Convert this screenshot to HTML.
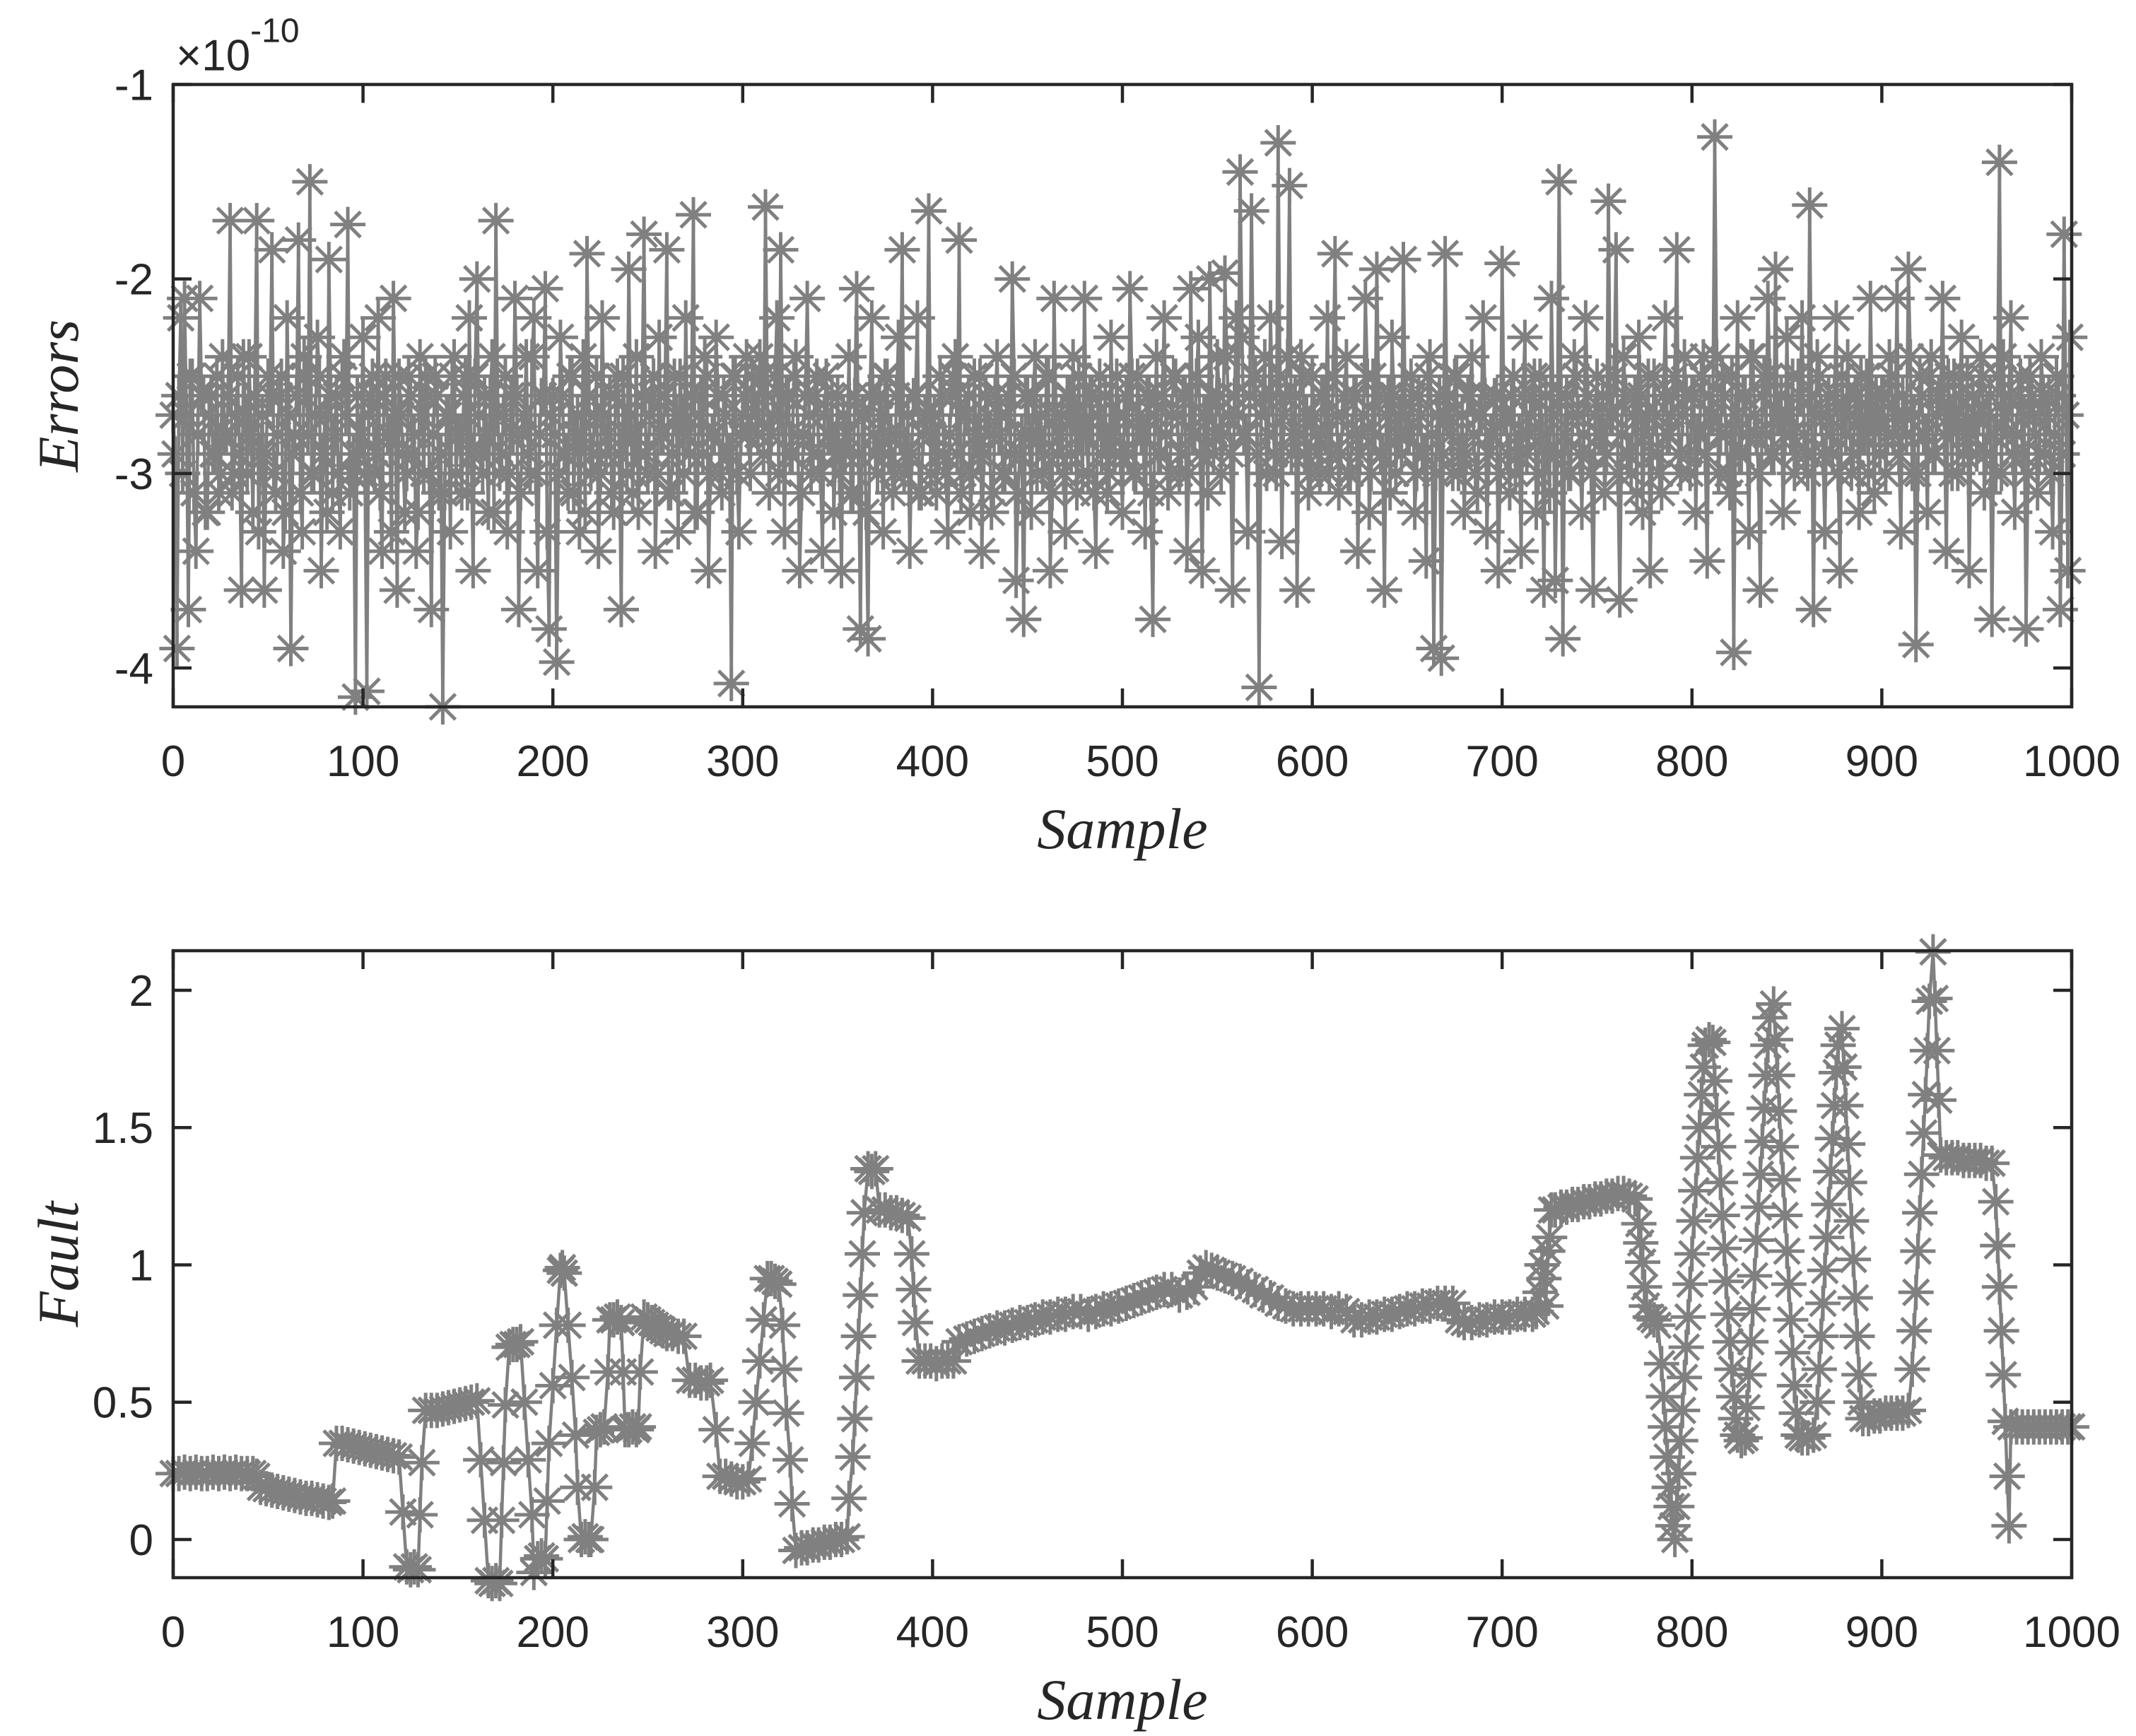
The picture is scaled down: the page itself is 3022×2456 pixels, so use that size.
<!DOCTYPE html>
<html><head><meta charset="utf-8"><style>
html,body{margin:0;padding:0;background:#fff;}
svg{display:block;}
.tick{font-family:"Liberation Sans",sans-serif;font-size:62px;fill:#262626;}
.lab{font-family:"Liberation Serif",serif;font-style:italic;font-size:82px;fill:#262626;}
</style></head><body>
<svg id="fig" width="3022" height="2456" viewBox="0 0 3022 2456" xmlns="http://www.w3.org/2000/svg">
<rect width="3022" height="2456" fill="#fff"/>
<g id="top"></g>
<g id="bot"></g>
</svg>
<script>
const errValuesEven = [
-2.7,-3.9,-2.2,-2.1,-3.7,-2.5,-3.4,-2.1,-2.6,-3.2,-2.6,-2.9,-3.1,-2.4,-2.8,-1.7,-3.0,-2.5,-3.6,-2.7,-2.4,-3.2,-1.7,-2.9,-3.6,
-2.5,-1.85,-3.1,-2.6,-3.4,-2.2,-3.9,-2.8,-1.8,-3.3,-2.5,-1.5,-3.0,-2.3,-3.5,-2.7,-1.9,-3.1,-2.6,-3.3,-2.4,-1.72,-3.0,-4.15,-2.9,
-2.3,-4.12,-2.6,-3.0,-2.2,-3.4,-2.5,-2.8,-2.1,-3.6,-2.7,-3.2,-2.5,-2.9,-3.4,-2.4,-3.0,-2.6,-3.7,-2.5,-3.1,-4.2,-2.7,-3.3,-2.4,
-2.8,-3.1,-2.5,-2.2,-3.5,-2.0,-2.9,-2.6,-3.2,-2.4,-1.7,-3.0,-2.7,-3.3,-2.6,-2.1,-3.7,-2.8,-2.4,-3.0,-2.2,-3.5,-2.6,-2.05,-3.8,
-2.6,-3.97,-2.3,-2.9,-3.1,-2.5,-2.8,-3.3,-2.4,-1.87,-3.0,-2.7,-3.4,-2.2,-2.9,-2.6,-3.2,-2.5,-3.7,-2.8,-1.95,-3.1,-2.4,-2.9,-1.77,
-3.0,-2.6,-3.4,-2.3,-2.8,-1.85,-3.1,-2.5,-3.3,-2.7,-2.2,-2.9,-1.67,-3.2,-2.6,-2.4,-3.5,-2.8,-2.3,-3.0,-2.6,-2.9,-4.08,-2.5,-3.3,
-2.7,-2.4,-3.0,-2.6,-2.8,-2.5,-1.63,-3.1,-2.7,-2.2,-1.85,-3.3,-2.6,-2.9,-2.4,-3.5,-2.8,-2.1,-3.0,-2.6,-2.9,-3.4,-2.5,-2.8,-3.2,
-2.6,-3.5,-2.9,-2.4,-3.1,-2.05,-3.8,-2.7,-3.85,-2.2,-2.9,-2.6,-3.3,-2.5,-2.8,-3.0,-2.3,-1.85,-2.9,-3.4,-2.6,-2.2,-3.1,-2.7,-1.65,
-2.8,-3.1,-2.5,-2.9,-3.3,-2.6,-2.4,-1.8,-3.0,-2.7,-3.2,-2.5,-2.9,-3.4,-2.6,-2.8,-3.1,-2.4,-2.7,-3.0,-2.6,-2.0,-3.55,-2.9,-3.75,
-2.6,-3.2,-2.4,-2.8,-3.0,-2.5,-3.5,-2.1,-2.9,-2.7,-3.3,-2.6,-2.4,-3.1,-2.8,-2.1,-3.0,-2.6,-3.4,-2.5,-2.8,-3.1,-2.3,-2.9,-2.7,
-3.2,-2.6,-2.05,-3.0,-2.5,-2.8,-3.3,-2.6,-3.75,-2.4,-2.9,-2.2,-3.1,-2.7,-2.5,-3.0,-2.6,-3.4,-2.05,-2.8,-2.3,-3.5,-2.7,-2.0,-2.9,
-2.4,-3.0,-1.97,-2.7,-3.6,-2.2,-1.45,-2.8,-3.3,-1.65,-2.5,-4.1,-2.6,-3.0,-2.2,-2.9,-1.3,-3.35,-2.6,-1.52,-2.8,-3.6,-2.4,-2.9,-3.1,
-2.5,-2.8,-3.0,-2.6,-2.2,-2.9,-1.87,-3.1,-2.7,-2.4,-3.0,-2.6,-3.4,-2.8,-2.1,-3.2,-2.5,-1.95,-2.9,-3.6,-2.6,-2.3,-3.0,-2.7,-1.9,
-2.8,-2.5,-3.2,-2.6,-2.9,-3.45,-2.4,-3.9,-2.7,-3.95,-1.87,-2.6,-3.0,-2.5,-2.9,-3.2,-2.6,-2.4,-3.0,-2.7,-2.2,-3.3,-2.8,-2.6,-3.5,
-1.92,-2.7,-3.1,-2.5,-2.9,-3.4,-2.3,-2.8,-2.6,-3.2,-2.5,-3.6,-2.9,-2.1,-3.55,-1.5,-3.85,-2.6,-3.0,-2.4,-2.7,-3.2,-2.2,-2.9,-3.6,
-2.5,-2.8,-3.1,-1.6,-2.7,-1.85,-3.65,-2.4,-2.9,-3.0,-2.6,-2.3,-3.2,-2.7,-3.5,-2.5,-2.9,-3.1,-2.2,-2.8,-2.6,-1.85,-3.0,-2.4,-2.9,
-2.6,-3.2,-2.8,-2.4,-3.45,-2.7,-1.27,-3.0,-2.5,-2.8,-3.1,-3.92,-2.2,-2.9,-2.6,-3.3,-2.4,-2.8,-3.6,-2.5,-2.1,-2.9,-1.95,-2.7,-3.2,
-2.3,-2.8,-3.0,-2.5,-2.2,-2.9,-1.62,-3.7,-2.4,-2.7,-3.3,-2.6,-2.9,-2.2,-3.5,-2.7,-2.4,-3.0,-2.6,-3.2,-2.8,-2.5,-2.1,-3.1,-2.7,
-2.6,-3.0,-2.4,-2.8,-2.1,-3.3,-2.7,-1.95,-3.0,-3.88,-2.5,-2.8,-3.2,-2.4,-2.9,-2.6,-2.1,-3.4,-2.7,-2.5,-3.0,-2.3,-2.8,-3.5,-2.6,
-2.9,-2.4,-3.1,-2.7,-3.75,-3.0,-1.4,-2.4,-2.8,-2.2,-3.2,-2.6,-2.9,-3.8,-2.5,-2.7,-3.1,-2.4,-2.9,-2.6,-3.3,-2.5,-3.7,-1.77,-3.5];
const errValuesOdd = [
-2.9,-2.6,-3.0,-2.7,-2.5,-3.1,-2.8,-2.6,-3.2,-2.7,-2.9,-2.5,-3.0,-2.8,-2.6,-3.1,-2.7,-2.9,-2.4,-3.0,-2.8,-2.6,-3.3,-2.7,-2.9,
-2.6,-3.0,-2.8,-2.5,-3.2,-2.7,-2.9,-2.6,-3.1,-2.4,-2.8,-3.0,-2.7,-2.5,-2.9,-3.2,-2.6,-2.8,-3.0,-2.5,-2.7,-3.1,-2.9,-2.6,-2.8,
-3.0,-2.7,-2.5,-2.9,-3.1,-2.6,-2.8,-3.3,-2.7,-2.5,-2.9,-3.0,-2.6,-2.8,-3.2,-2.7,-2.5,-3.0,-2.8,-2.6,-2.9,-3.1,-2.7,-2.5,-3.0,
-2.8,-2.6,-3.1,-2.9,-2.5,-2.7,-3.0,-2.8,-2.6,-3.2,-2.7,-2.9,-2.5,-3.0,-2.8,-2.6,-3.1,-2.7,-2.9,-2.4,-3.0,-2.8,-2.6,-3.3,-2.7,
-2.8,-3.0,-2.6,-2.9,-2.5,-3.1,-2.7,-2.8,-3.2,-2.6,-2.9,-2.5,-3.0,-2.7,-2.8,-3.1,-2.6,-2.9,-2.5,-3.0,-2.7,-2.8,-3.2,-2.6,-2.9,
-2.7,-2.5,-3.0,-2.8,-2.6,-3.1,-2.9,-2.7,-2.5,-3.0,-2.8,-2.6,-3.2,-2.7,-2.9,-2.5,-3.0,-2.8,-2.6,-3.1,-2.7,-2.9,-2.5,-3.0,-2.8,
-2.6,-2.8,-2.5,-2.7,-2.4,-2.9,-2.6,-2.8,-2.5,-3.0,-2.7,-2.6,-2.9,-2.5,-2.8,-3.1,-2.6,-2.7,-2.9,-2.5,-3.0,-2.7,-2.8,-2.6,-2.9,
-3.0,-2.7,-2.8,-3.1,-2.6,-2.9,-2.7,-3.2,-2.6,-2.8,-3.0,-2.7,-2.5,-2.9,-3.1,-2.6,-2.8,-3.0,-2.7,-2.9,-2.6,-3.1,-2.8,-2.7,-3.0,
-2.7,-2.9,-2.6,-3.0,-2.8,-2.5,-2.9,-3.1,-2.7,-2.6,-3.0,-2.8,-2.5,-2.9,-2.7,-3.2,-2.6,-2.8,-3.0,-2.7,-2.9,-2.5,-3.1,-2.8,-2.6,
-2.8,-2.6,-3.0,-2.7,-2.9,-2.5,-3.1,-2.7,-2.8,-3.0,-2.6,-2.9,-2.7,-2.5,-3.0,-2.8,-2.6,-3.1,-2.7,-2.9,-2.6,-3.0,-2.8,-2.5,-2.9,
-2.7,-2.9,-2.5,-3.0,-2.7,-2.8,-2.6,-3.1,-2.7,-2.9,-2.6,-2.8,-3.0,-2.5,-2.7,-2.9,-2.6,-3.0,-2.8,-2.5,-2.9,-2.7,-3.1,-2.6,-2.8,
-2.6,-2.8,-2.4,-2.9,-2.6,-2.7,-2.3,-2.8,-2.6,-2.5,-2.9,-2.7,-2.4,-2.8,-2.6,-3.0,-2.5,-2.7,-2.4,-2.9,-2.6,-2.8,-2.5,-2.7,-3.0,
-2.7,-2.9,-2.6,-2.8,-3.0,-2.5,-2.7,-2.9,-2.6,-3.0,-2.8,-2.6,-2.9,-2.7,-2.5,-3.0,-2.8,-2.6,-2.9,-2.7,-3.1,-2.6,-2.8,-2.9,-2.7,
-2.8,-2.6,-3.0,-2.7,-2.9,-2.5,-2.8,-3.0,-2.6,-2.9,-2.7,-2.8,-2.5,-3.0,-2.7,-2.9,-2.6,-2.8,-3.1,-2.7,-2.6,-2.9,-2.8,-2.6,-3.0,
-2.7,-2.9,-2.6,-3.0,-2.8,-2.6,-2.9,-2.7,-2.5,-3.0,-2.8,-2.6,-3.1,-2.7,-2.9,-2.6,-2.8,-3.0,-2.7,-2.5,-2.9,-2.8,-2.6,-3.0,-2.7,
-2.8,-2.6,-2.9,-2.7,-2.5,-3.0,-2.8,-2.6,-2.9,-2.7,-3.1,-2.6,-2.8,-2.5,-2.9,-2.7,-3.0,-2.6,-2.8,-2.7,-2.5,-2.9,-2.7,-2.6,-3.0,
-2.6,-2.8,-2.5,-2.9,-2.6,-2.7,-2.4,-2.8,-2.6,-3.0,-2.5,-2.7,-2.9,-2.6,-2.8,-2.4,-2.7,-3.0,-2.6,-2.8,-2.5,-2.9,-2.7,-2.6,-2.8,
-2.7,-2.5,-2.9,-2.6,-2.8,-3.0,-2.6,-2.7,-2.5,-2.9,-2.7,-2.8,-2.6,-3.0,-2.5,-2.8,-2.7,-2.9,-2.6,-2.5,-2.8,-3.0,-2.7,-2.6,-2.9,
-2.6,-2.8,-2.5,-2.7,-2.9,-2.6,-2.8,-2.4,-2.7,-3.0,-2.6,-2.8,-2.5,-2.9,-2.7,-2.6,-2.8,-2.5,-3.0,-2.7,-2.6,-2.9,-2.5,-2.8,-2.7,
-2.7,-2.5,-2.9,-2.6,-2.8,-2.5,-3.0,-2.7,-2.6,-2.9,-2.8,-2.5,-2.7,-3.0,-2.6,-2.8,-2.9,-2.6,-2.7,-3.0,-2.8,-2.6,-2.9,-2.7,-2.3];
const errSamples = [];
const errValues = [];
errValuesEven.forEach((v,i)=>{errSamples.push(2*i);errValues.push(v);errSamples.push(2*i+1);errValues.push(errValuesOdd[i]);});

const faultSamples = [0,3,6,9,12,15,18,21,24,27,30,33,36,39,42,44,46,49,52,55,58,61,64,67,70,73,76,79,82,84,
86,89,92,95,98,101,104,107,110,113,116,119,121,123,125,127,129,130,131,133,136,139,142,145,148,151,154,157,160,
162,164,166,168,170,172,173,174,175,177,179,181,183,185,187,189,190,192,194,196,197,198,200,202,204,205,206,
208,210,212,213,215,217,219,220,222,223,225,227,229,230,232,234,236,237,238,240,242,244,245,246,248,250,252,254,256,258,260,263,266,269,
272,275,278,281,283,286,288,291,294,297,300,303,305,307,309,311,313,315,317,319,321,322,323,325,326,
328,331,334,337,340,343,346,349,352,355,356,358,359,360,361,362,363,364,366,368,370,372,375,378,381,384,387,389,390,391,
393,396,399,402,405,408,411,414,418,422,426,430,434,438,442,446,450,454,458,462,466,470,474,478,482,486,490,494,498,502,506,510,514,518,522,526,530,534,538,541,544,547,550,554,558,562,566,570,574,578,582,586,590,594,598,602,606,610,614,618,622,626,630,634,638,642,646,650,654,658,662,666,670,674,677,680,684,688,692,696,700,704,708,712,716,718,
720,721,722,723,724,725,726,728,731,734,737,740,743,746,749,752,755,758,761,764,767,770,
772,773,774,775,776,778,780,782,784,785,786,787,788,789,790,791,
792,793,794,795,796,797,798,799,800,801,802,803,804,805,806,807,809,811,
812,813,814,815,816,817,818,819,820,821,822,823,824,826,828,
829,830,831,832,833,834,835,836,837,838,839,840,841,843,
844,845,846,847,848,849,850,851,852,853,854,855,856,858,861,864,
866,867,868,869,870,871,872,873,874,875,876,877,879,
880,881,882,883,884,885,886,887,888,889,890,893,896,899,902,905,908,911,914,
916,917,918,919,920,921,922,923,924,925,927,928,929,930,931,
934,937,940,943,946,949,952,955,958,960,961,962,963,964,965,966,967,968,
971,974,977,980,983,986,989,992,995,998,1000];
const faultValues = [.24,.24,.245,.24,.245,.24,.24,.245,.24,.245,.24,.245,.24,.24,.24,.23,
.19,.185,.18,.175,.17,.165,.16,.155,.15,.15,.145,.14,.135,.14,
.35,.35,.345,.34,.335,.33,.325,.32,.315,.31,.305,.30,.10,-.10,-.11,-.10,-.11,.09,.28,.47,
.47,.47,.475,.48,.485,.49,.495,.50,.505,
.29,.07,-.15,-.16,-.15,-.16,.07,.28,.49,.70,.71,.71,.72,.50,.29,.09,-.12,-.07,-.06,-.07,.14,.35,.56,.78,.98,.99,.97,
.78,.59,.38,.19,0,.01,0,0,.19,.39,.40,.41,.61,.80,.80,.81,.79,.61,.40,.40,.41,.40,.41,.61,.81,.80,.79,.78,.77,.76,.75,.75,.74,.74,
.58,.58,.57,.57,.58,.40,.23,.23,.22,.21,.21,.22,.35,.50,.65,.80,.95,.95,.94,.93,.78,.62,.46,.29,.13,
-.04,-.03,-.03,-.02,-.02,-.01,-.01,0,0,.01,.15,.30,.44,.59,.74,.89,1.04,1.19,1.35,1.34,1.35,1.20,1.20,1.19,1.19,1.18,1.17,1.04,.91,.79,
.65,.65,.65,.64,.65,.65,.65,.72,.73,.74,.75,.76,.77,.77,.78,.79,.79,.80,.81,.81,.82,.82,.83,.83,.82,.83,.84,.84,.85,.86,.87,.88,.89,.90,.91,.91,.89,.90,.92,.97,.99,.98,.97,.96,.95,.94,.92,.91,.89,.88,.86,.85,.84,.84,.84,.84,.84,.83,.84,.83,.80,.80,.81,.81,.82,.82,.83,.84,.84,.85,.85,.86,.86,.86,.80,.79,.79,.80,.80,.81,.81,.81,.82,.82,.82,.83,
.90,1.0,.95,.85,1.05,1.1,1.2,1.20,1.21,1.21,1.22,1.22,1.23,1.23,1.24,1.24,1.25,1.25,1.26,1.26,1.25,1.24,
1.15,1.08,1.01,.92,.85,.81,.80,.78,.64,.52,.41,.30,.19,.12,.05,0,
.12,.24,.36,.47,.59,.70,.81,.93,1.04,1.16,1.27,1.39,1.50,1.62,1.72,1.80,1.82,1.81,
1.67,1.55,1.43,1.30,1.18,1.06,.94,.82,.72,.62,.52,.44,.38,.36,.37,
.48,.60,.72,.84,.96,1.09,1.21,1.33,1.45,1.57,1.69,1.80,1.90,1.95,
1.82,1.69,1.56,1.43,1.31,1.18,1.05,.93,.80,.68,.56,.46,.38,.37,.37,.38,
.50,.62,.74,.86,.98,1.10,1.22,1.34,1.46,1.58,1.70,1.80,1.86,
1.72,1.58,1.44,1.30,1.16,1.02,.88,.74,.60,.50,.44,.44,.45,.45,.46,.46,.46,.46,.47,
.62,.76,.90,1.05,1.19,1.33,1.48,1.62,1.78,1.96,2.14,1.97,1.78,1.60,1.40,
1.39,1.39,1.39,1.38,1.38,1.38,1.38,1.37,1.37,1.23,1.07,.92,.76,.60,.43,.23,.05,.41,
.41,.41,.41,.41,.41,.41,.41,.41,.41,.41,.41];
const xTickLabels = ['0','100','200','300','400','500','600','700','800','900','1000'];
const xTickValues = [0,100,200,300,400,500,600,700,800,900,1000];
const errTickValues = [-4,-3,-2,-1];
const errTickLabels = ['-4','-3','-2','-1'];
const faultTickValues = [0,0.5,1,1.5,2];
const faultTickLabels = ['0','0.5','1','1.5','2'];

const NS='http://www.w3.org/2000/svg';
function mk(tag, attrs, parent){const e=document.createElementNS(NS,tag);for(const k in attrs)e.setAttribute(k,attrs[k]);parent.appendChild(e);return e;}

function chart(g, L, R, T, B, ymin, ymax, xs, ys, yt, ytl, ylabel, expo){
  const sx=v=>L+(v-0)/(1000-0)*(R-L);
  const sy=v=>B-(v-ymin)/(ymax-ymin)*(B-T);
  const col='#808080';
  let d='';
  xs.forEach((x,i)=>{d+=(i?'L':'M')+sx(x).toFixed(1)+' '+sy(ys[i]).toFixed(1);});
  const ln=mk('path',{d:d,fill:'none',stroke:col,'stroke-width':4.5,'stroke-linejoin':'round'},g);
  
  
  let md='';const r=25,q=18;
  xs.forEach((x,i)=>{const cx=sx(x),cy=sy(ys[i]);
    md+=`M${(cx-r).toFixed(1)} ${cy.toFixed(1)}h${2*r}M${cx.toFixed(1)} ${(cy-r).toFixed(1)}v${2*r}M${(cx-q).toFixed(1)} ${(cy-q).toFixed(1)}l${2*q} ${2*q}M${(cx-q).toFixed(1)} ${(cy+q).toFixed(1)}l${2*q} ${-2*q}`;});
  const mks=mk('path',{d:md,fill:'none',stroke:col,'stroke-width':5},g);
  
  
  const ax=mk('rect',{x:L,y:T,width:R-L,height:B-T,fill:'none',stroke:'#262626','stroke-width':4.5},g);
  
  
  let td='';
  xTickValues.forEach((v,i)=>{const x=sx(v);td+=`M${x} ${B}v-26M${x} ${T}v26`;
    const t=mk('text',{x:x,y:B+98,'text-anchor':'middle',class:'tick'},g);t.textContent=xTickLabels[i];
    
    });
  yt.forEach((v,i)=>{const y=sy(v);td+=`M${L} ${y}h26M${R} ${y}h-26`;
    const t=mk('text',{x:L-28,y:y+22,'text-anchor':'end',class:'tick'},g);t.textContent=ytl[i];
    
    });
  const tk=mk('path',{d:td,stroke:'#262626','stroke-width':4.5,fill:'none'},g);
  
  
  const xl=mk('text',{x:(L+R)/2,y:B+200,'text-anchor':'middle',class:'lab'},g);xl.textContent='Sample';
  
  
  const yl=mk('text',{x:0,y:0,'text-anchor':'middle',class:'lab',transform:`translate(110,${(T+B)/2}) rotate(-90)`},g);yl.textContent=ylabel;
  
  
  if(expo){const t=mk('text',{x:L+4,y:T-20,class:'tick','font-size':'68'},g);t.innerHTML='×10<tspan dy="-40" font-size="48">-10</tspan>';
    
    }
}
chart(document.getElementById('top'),245,2931,119.5,1000,-4.2,-1,errSamples,errValues,errTickValues,errTickLabels,'Errors',true);
chart(document.getElementById('bot'),245,2931,1345,2232,-0.139,2.144,faultSamples,faultValues,faultTickValues,faultTickLabels,'Fault',false);
</script>
</body></html>
